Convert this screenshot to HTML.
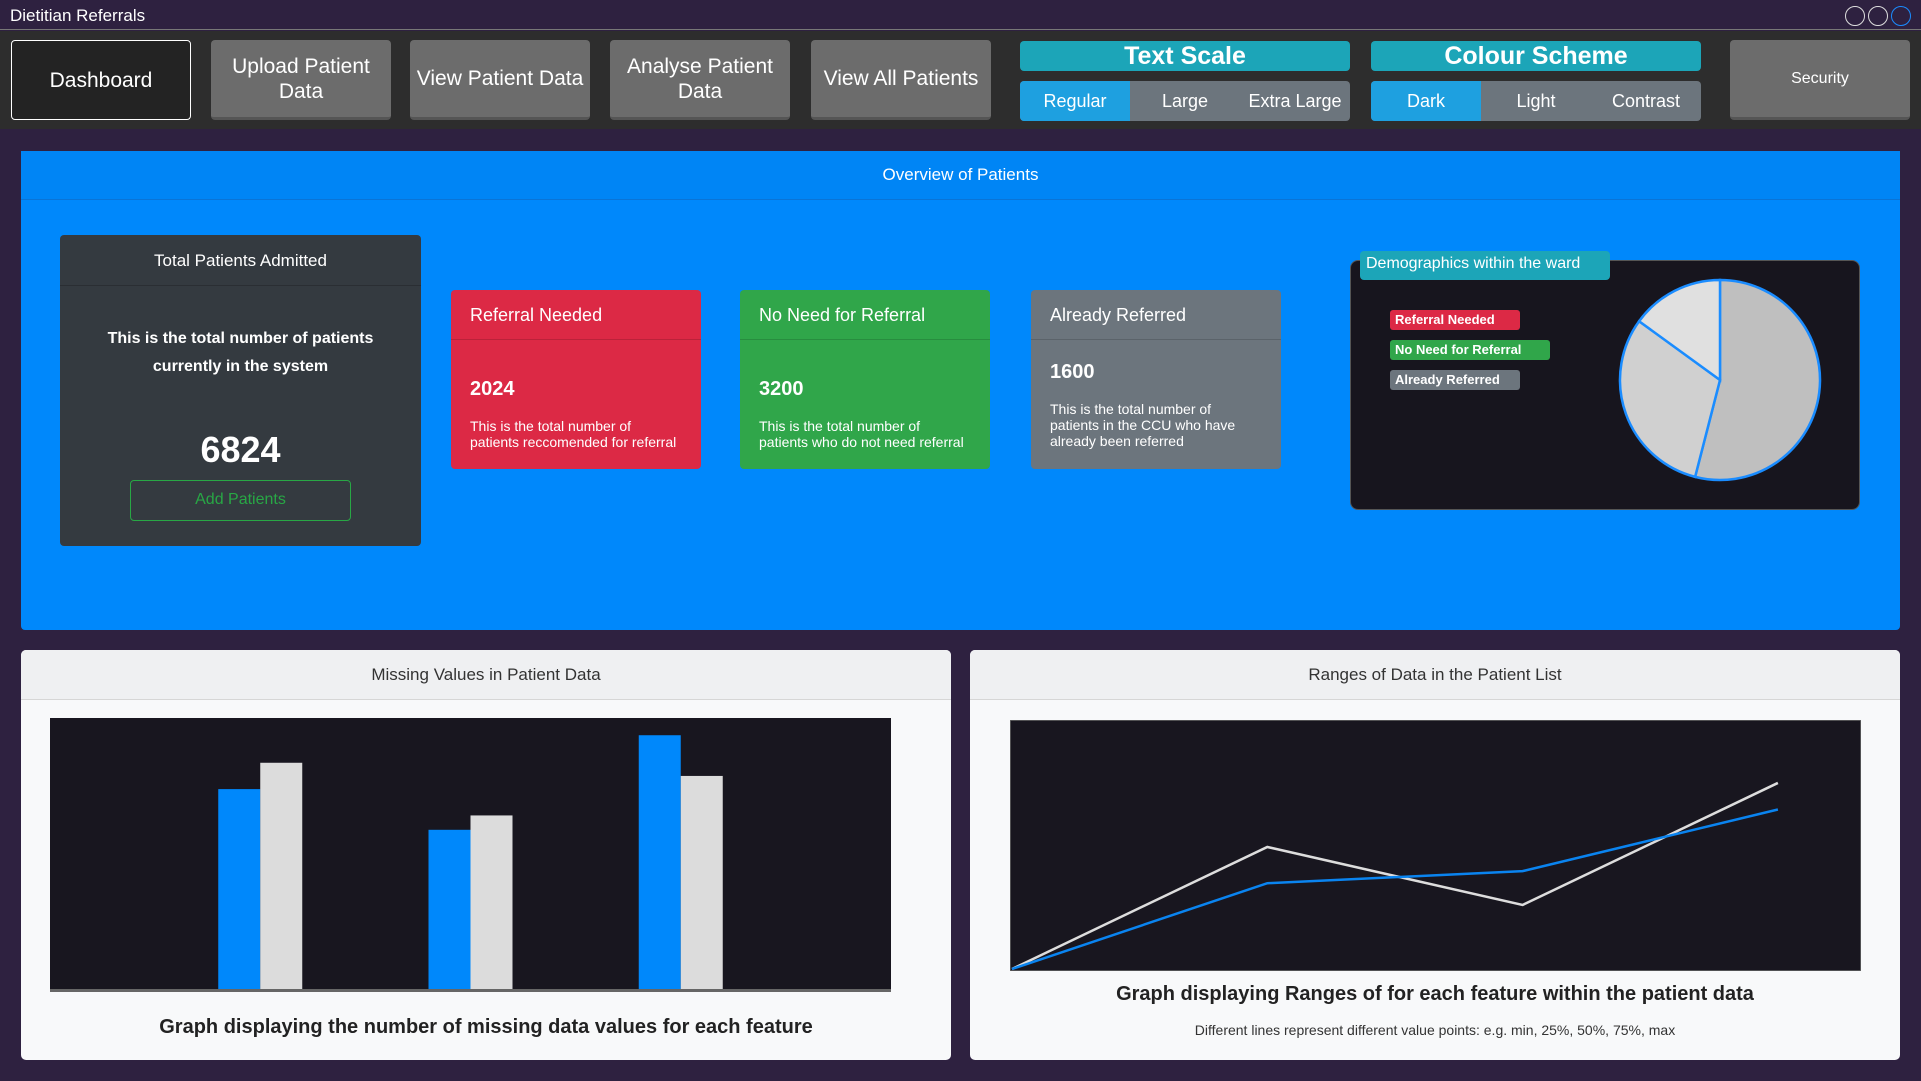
<!DOCTYPE html>
<html><head><meta charset="utf-8"><style>
*{box-sizing:border-box;margin:0;padding:0}
body{width:1921px;height:1081px;background:#2e2140;font-family:"Liberation Sans",Arial,sans-serif;position:relative;overflow:hidden}
.a{position:absolute}
.nb{position:absolute;top:40px;height:80px;width:180px;background:#6c6c6c;border-radius:4px;color:#fff;font-size:21px;display:flex;align-items:center;justify-content:center;text-align:center;line-height:25px;border-bottom:3px solid #555}
.grp{position:absolute;width:330px}
.gh{height:30px;background:#1ca5b8;border-radius:4px;color:#fff;font-weight:bold;font-size:25px;text-align:center;line-height:30px}
.gb{margin-top:10px;height:40px;display:flex;border-radius:4px;overflow:hidden;background:#6c757d}
.gb div{flex:1;color:#fff;font-size:18px;text-align:center;line-height:40px}
.gb .on{background:#1ea0e0}
.sc{position:absolute;top:290px;width:250px;height:179px;border-radius:4px;color:#fff}
.sc .h{height:50px;border-bottom:1px solid rgba(0,0,0,.15);font-size:18px;line-height:50px;padding-left:19px}
.sc .n{font-size:20px;font-weight:bold;padding:38px 0 0 19px}
.sc .t{font-size:14px;line-height:16px;padding:17px 19px 0}
.card{position:absolute;top:650px;height:410px;background:#f8f9fa;border-radius:5px;overflow:hidden}
.card .h{height:50px;background:#eff0f2;border-bottom:1px solid #d6d6d6;text-align:center;line-height:50px;font-size:17px;color:#333}
.lg{position:absolute;left:1390px;height:20px;border-radius:3px;color:#fff;font-weight:bold;font-size:13px;line-height:20px;padding:0 5px}
</style></head><body>
<div class="a" style="left:0;top:0;width:1921px;height:30px;background:#2e2140;border-bottom:1px solid #777"></div>
<div class="a" style="left:10px;top:6px;color:#fff;font-size:17px">Dietitian Referrals</div>
<div class="a" style="left:1845px;top:6px;width:20px;height:20px;border:1.5px solid #ddd;border-radius:50%"></div>
<div class="a" style="left:1868px;top:6px;width:20px;height:20px;border:1.5px solid #ddd;border-radius:50%"></div>
<div class="a" style="left:1891px;top:6px;width:20px;height:20px;border:1.5px solid #1a8cff;border-radius:50%"></div>
<div class="a" style="left:0;top:31px;width:1921px;height:98px;background:#2d2d2d"></div>
<div class="nb" style="left:11px;background:#232323;border:1.5px solid #fff">Dashboard</div>
<div class="nb" style="left:211px">Upload Patient<br>Data</div>
<div class="nb" style="left:410px">View Patient Data</div>
<div class="nb" style="left:610px">Analyse Patient<br>Data</div>
<div class="nb" style="left:811px">View All Patients</div>
<div class="grp" style="left:1020px;top:41px">
<div class="gh">Text Scale</div>
<div class="gb"><div class="on">Regular</div><div>Large</div><div>Extra Large</div></div></div>
<div class="grp" style="left:1371px;top:41px">
<div class="gh">Colour Scheme</div>
<div class="gb"><div class="on">Dark</div><div>Light</div><div>Contrast</div></div></div>
<div class="nb" style="left:1730px;font-size:16px">Security</div>

<div class="a" style="left:21px;top:151px;width:1879px;height:479px;background:#0088fb;border-radius:4px">
<div style="height:49px;border-bottom:1px solid #0a74d6;background:#0085f5;text-align:center;line-height:48px;color:#fff;font-size:17px">Overview of Patients</div></div>

<div class="a" style="left:60px;top:235px;width:361px;height:311px;background:#343a40;border-radius:4px;color:#fff;text-align:center">
<div style="height:51px;border-bottom:1px solid #2a2e33;line-height:51px;font-size:17px">Total Patients Admitted</div>
<div style="font-weight:bold;font-size:16px;line-height:28px;margin-top:39px">This is the total number of patients<br>currently in the system</div>
<div style="font-weight:bold;font-size:36px;margin-top:48px">6824</div>
<div style="position:absolute;left:70px;top:245px;width:221px;height:41px;border:1.5px solid #28a745;border-radius:4px;color:#28a745;font-size:16px;line-height:38px">Add Patients</div></div>

<div class="sc" style="left:451px;background:#dc2945"><div class="h">Referral Needed</div><div class="n">2024</div><div class="t">This is the total number of patients reccomended for referral</div></div>
<div class="sc" style="left:740px;background:#30a64a"><div class="h">No Need for Referral</div><div class="n">3200</div><div class="t">This is the total number of patients who do not need referral</div></div>
<div class="sc" style="left:1031px;background:#6c757d"><div class="h">Already Referred</div><div class="n" style="padding-top:21px">1600</div><div class="t">This is the total number of patients in the CCU who have already been referred</div></div>

<div class="a" style="left:1350px;top:260px;width:510px;height:250px;background:#17151e;border:1px solid #555;border-radius:8px"></div>
<div class="a" style="left:1360px;top:251px;width:250px;height:29px;background:#1ca5b8;border-radius:4px;color:#fff;font-size:16px;line-height:26px;padding-left:6px">Demographics within the ward</div>
<div class="lg" style="top:310px;width:130px;background:#dc2945">Referral Needed</div>
<div class="lg" style="top:340px;width:160px;background:#30a64a">No Need for Referral</div>
<div class="lg" style="top:370px;width:130px;background:#6c757d">Already Referred</div>
<svg class="a" id="pie" style="left:1610px;top:270px" width="220" height="220"></svg>

<div class="card" style="left:21px;width:930px"><div class="h">Missing Values in Patient Data</div>
<div style="position:absolute;top:366px;width:100%;text-align:center;font-weight:bold;font-size:20px;color:#222">Graph displaying the number of missing data values for each feature</div></div>
<svg class="a" id="bar" style="left:50px;top:718px" width="841" height="274"></svg>

<div class="card" style="left:970px;width:930px"><div class="h">Ranges of Data in the Patient List</div>
<div style="position:absolute;top:333px;width:100%;text-align:center;font-weight:bold;font-size:20px;color:#222">Graph displaying Ranges of for each feature within the patient data</div>
<div style="position:absolute;top:372px;width:100%;text-align:center;font-size:14px;color:#333">Different lines represent different value points: e.g. min, 25%, 50%, 75%, max</div></div>
<svg class="a" id="line" style="left:1010px;top:720px" width="851" height="251"></svg>

<script>
const NS="http://www.w3.org/2000/svg";
const pieLabels=["No Need for Referral","Referral Needed","Already Referred"];
const pieValues=[54,31,15];
const barCategories=["Feature 1","Feature 2","Feature 3"];
const barSeriesA=[167,133,212];
const barSeriesB=[189,145,178];
const barMax=223;
const lineXs=[0,1,2,3];
const lineSeriesWhite=[0,101,53,154];
const lineSeriesBlue=[0,71,81,132];
const lineMax=203;
function mk(t,a){const e=document.createElementNS(NS,t);for(const k in a)e.setAttribute(k,a[k]);return e;}
(function(){const s=document.getElementById('pie');const cx=110,cy=110,r=100;const cols=["#bfbfbf","#d0d0d0","#e0e0e0"];
const tot=pieValues.reduce((a,b)=>a+b,0);let ang=0;
pieValues.forEach((v,i)=>{const a0=ang,a1=ang+v/tot*2*Math.PI;ang=a1;
const x0=cx+r*Math.sin(a0),y0=cy-r*Math.cos(a0),x1=cx+r*Math.sin(a1),y1=cy-r*Math.cos(a1);
const p=mk('path',{d:`M${cx},${cy}L${x0},${y0}A${r},${r} 0 ${a1-a0>Math.PI?1:0} 1 ${x1},${y1}Z`,fill:cols[i],stroke:"#1a8cff","stroke-width":2.5});


s.appendChild(p);});})();
(function(){const s=document.getElementById('bar');const W=841,H=274,pb=H-3;
s.appendChild(mk('rect',{x:0,y:0,width:W,height:H,fill:"#18161f"}));
const y=v=>pb-v/barMax*pb*0.985;const bw=42;
barCategories.forEach((c,i)=>{const cxp=W*(i+1)/4;
const a=mk('rect',{x:cxp-bw,y:y(barSeriesA[i]),width:bw,height:pb-y(barSeriesA[i]),fill:"#0088fb"});


s.appendChild(a);
const b=mk('rect',{x:cxp,y:y(barSeriesB[i]),width:bw,height:pb-y(barSeriesB[i]),fill:"#dcdcdc"});


s.appendChild(b);});
s.appendChild(mk('line',{x1:0,y1:H-1.5,x2:W,y2:H-1.5,stroke:"#666","stroke-width":3}));})();
(function(){const s=document.getElementById('line');const W=851,H=251,pb=H-2;
s.appendChild(mk('rect',{x:0,y:0,width:W,height:H,fill:"#18161f",stroke:"#666","stroke-width":1.5}));
const x=i=>2+i*(W*0.9)/3;const y=v=>pb-v/lineMax*pb*0.985;
[[lineSeriesWhite,"#dddddd","line-series-white"],[lineSeriesBlue,"#0a84f0","line-series-blue"]].forEach(([d,c,n])=>{
const p=mk('polyline',{points:lineXs.map((xi,i)=>x(xi)+","+y(d[i])).join(" "),fill:"none",stroke:c,"stroke-width":2.5});


s.appendChild(p);});})();
</script>
</body></html>
